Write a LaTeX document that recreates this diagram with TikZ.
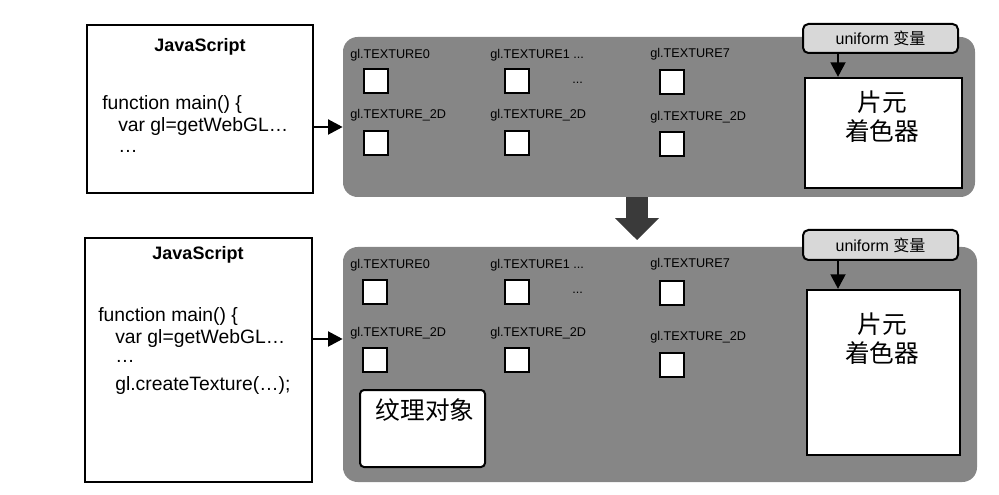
\documentclass[tikz,border=0pt]{standalone}
\usepackage{fontspec}
\setmainfont{Liberation Sans}
\newfontfamily\cjk{Noto Sans CJK SC}
\usetikzlibrary{arrows.meta,fit}
\definecolor{panelgray}{RGB}{134,134,134}
\definecolor{unigray}{RGB}{216,216,216}
\definecolor{bigarrow}{RGB}{58,58,58}
\begin{document}
\begin{tikzpicture}[x=0.75pt,y=-0.75pt,
    panel/.style={fill=panelgray,rounded corners=11pt,inner sep=0pt},
    jsbox/.style={draw,line width=1.8pt,fill=white,inner sep=0pt},
    title/.style={inner sep=0pt,font=\bfseries\fontsize{13.5}{16}\selectfont},
    code/.style={anchor=west,inner sep=0pt,font=\fontsize{14.5}{17}\selectfont},
    texlab/.style={anchor=west,inner sep=0pt,font=\fontsize{9.5}{11}\selectfont},
    texunit/.style={draw,line width=2pt,fill=white,minimum size=18pt,inner sep=0pt},
    unibox/.style={draw,line width=1.5pt,fill=unigray,rounded corners=4pt,inner sep=0pt},
    unitxt/.style={inner sep=0pt,font=\fontsize{12}{14}\selectfont},
    shader/.style={draw,line width=1.6pt,fill=white,inner sep=0pt},
    objbox/.style={draw,line width=1.5pt,fill=white,rounded corners=3pt,inner sep=0pt},
    cjktxt/.style={align=center,inner sep=0pt,font={\cjk\fontsize{18.5}{21.75}\selectfont}},
    arr/.style={line width=2.2pt,-{Triangle[length=11pt,width=11pt]}},
    bigarr/.style={draw=bigarrow,line width=16.5pt,-{Triangle[length=16.5pt,width=32pt]}},
  ]
    \useasboundingbox (0,0) rectangle (999,495);

    % upper half: before the texture is created
    \node[jsbox,fit={(87,25) (313,193)}] (js1) {};
    \node[title] (js1t) at (200,47) {JavaScript};
    \node[code] (js1l1) at (102,105) {function main() \{};
    \node[code] (js1l2) at (118,127) {var gl=getWebGL…};
    \node[code] (js1l3) at (118,151) {…};

    \node[panel,fit={(343,37) (975,197)}] (panel1) {};
    \draw[arr] (js1.east |- js1l2) -- (panel1.west |- js1l2);

    \node[texlab] (lab10) at (350,55) {gl.TEXTURE0};
    \node[texlab] (lab11) at (490,55) {gl.TEXTURE1 ...};
    \node[texlab] (lab17) at (650,54) {gl.TEXTURE7};
    \node[texunit] (u10) at (376,81) {};
    \node[texunit] (u11) at (517,81) {};
    \node[texunit] (u17) at (672,82) {};
    \node[texlab] (dots1) at (572,83) {...};
    \node[texlab] (lab20) at (350,115) {gl.TEXTURE\_2D};
    \node[texlab] (lab21) at (490,115) {gl.TEXTURE\_2D};
    \node[texlab] (lab27) at (650,117) {gl.TEXTURE\_2D};
    \node[texunit] (u20) at (376,143) {};
    \node[texunit] (u21) at (517,143) {};
    \node[texunit] (u27) at (672,144) {};

    \node[shader,fit={(805,78) (962,188)}] (sh1) {};
    \node[cjktxt] (sh1t) at (882,117) {片元\\着色器};
    \node[unibox,fit={(803,24) (958,53)}] (uni1) {};
    \node[unitxt] (uni1t) at (uni1.center) {uniform {\cjk 变量}};
    \draw[arr] (uni1.south -| 838,0) -- (sh1.north -| 838,0);

    % step arrow
    \node[panel,fit={(343,247) (977,482)}] (panel2) {};
    \draw[bigarr,shorten >=5pt] (panel1.south -| 637,0) -- (panel2.north -| 637,0);

    % lower half: after gl.createTexture()
    \node[jsbox,fit={(85,238) (312,482)}] (js2) {};
    \node[title] (js2t) at (198,255) {JavaScript};
    \node[code] (js2l1) at (98,317) {function main() \{};
    \node[code] (js2l2) at (115,339) {var gl=getWebGL…};
    \node[code] (js2l3) at (115,361) {…};
    \node[code] (js2l4) at (115,386) {gl.createTexture(…);};
    \draw[arr] (js2.east |- js2l2) -- (panel2.west |- js2l2);

    \node[texlab] (lab30) at (350,265) {gl.TEXTURE0};
    \node[texlab] (lab31) at (490,265) {gl.TEXTURE1 ...};
    \node[texlab] (lab37) at (650,264) {gl.TEXTURE7};
    \node[texunit] (u30) at (375,292) {};
    \node[texunit] (u31) at (517,292) {};
    \node[texunit] (u37) at (672,293) {};
    \node[texlab] (dots2) at (572,293) {...};
    \node[texlab] (lab40) at (350,333) {gl.TEXTURE\_2D};
    \node[texlab] (lab41) at (490,333) {gl.TEXTURE\_2D};
    \node[texlab] (lab47) at (650,337) {gl.TEXTURE\_2D};
    \node[texunit] (u40) at (375,360) {};
    \node[texunit] (u41) at (517,360) {};
    \node[texunit] (u47) at (672,365) {};

    \node[objbox,fit={(360,390) (485,467)}] (texobj) {};
    \node[cjktxt] (texobjt) at (425,410) {纹理对象};

    \node[shader,fit={(807,290) (960,455)}] (sh2) {};
    \node[cjktxt] (sh2t) at (882,339) {片元\\着色器};
    \node[unibox,fit={(803,230) (958,260)}] (uni2) {};
    \node[unitxt] (uni2t) at (uni2.center) {uniform {\cjk 变量}};
    \draw[arr] (uni2.south -| 838,0) -- (sh2.north -| 838,0);
\end{tikzpicture}
\end{document}
